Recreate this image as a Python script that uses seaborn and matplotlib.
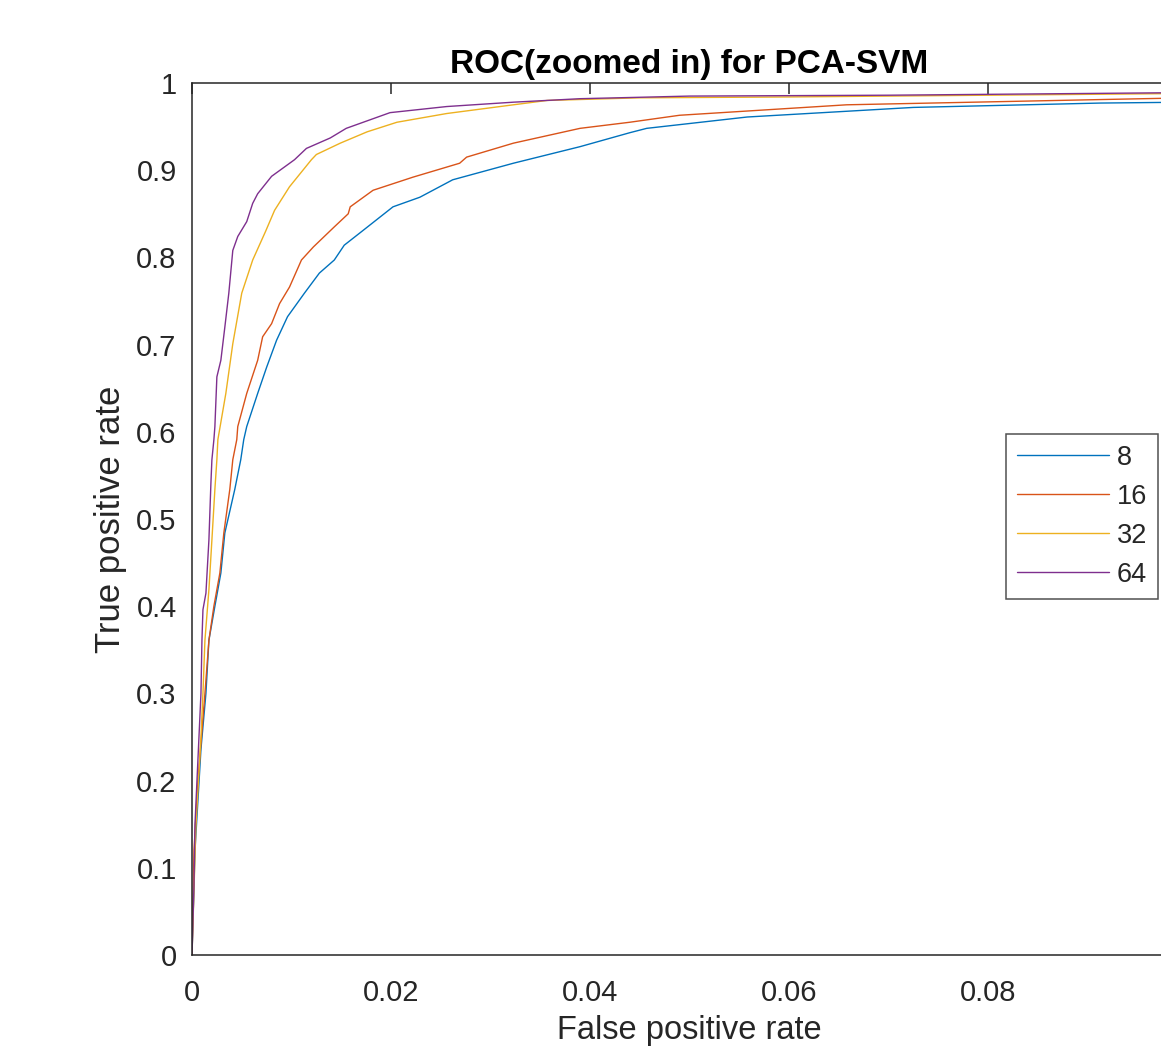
import numpy as np
import pandas as pd
import matplotlib
matplotlib.use("Agg")
import matplotlib.pyplot as plt
import seaborn as sns

# ---- data ----
labels = ["8", "16", "32", "64"]
colors = ["#0072BD", "#D95319", "#EDB120", "#7E2F8E"]

fpr_8 = [0, 0.0003, 0.0009, 0.0014, 0.0017, 0.0023, 0.0029, 0.0033, 0.0043, 0.0049, 0.0052,
         0.0055, 0.0066, 0.0075, 0.0085, 0.0096, 0.0113, 0.0128, 0.0143, 0.0153, 0.0172,
         0.0202, 0.0229, 0.0262, 0.0323, 0.039, 0.044, 0.0457, 0.0558, 0.0725, 0.0913, 0.1]
tpr_8 = [0, 0.12, 0.236, 0.30, 0.361, 0.40, 0.438, 0.484, 0.534, 0.568, 0.591,
         0.606, 0.644, 0.674, 0.705, 0.732, 0.759, 0.782, 0.797, 0.814, 0.831,
         0.858, 0.869, 0.889, 0.908, 0.927, 0.943, 0.948, 0.961, 0.972, 0.977, 0.978]

fpr_16 = [0, 0.0002, 0.0006, 0.0013, 0.0017, 0.0022, 0.0028, 0.0032, 0.0038, 0.0041, 0.0045,
          0.0046, 0.0055, 0.0066, 0.0071, 0.0080, 0.0088, 0.0098, 0.0110, 0.0122, 0.0143,
          0.0157, 0.0159, 0.0182, 0.0222, 0.0269, 0.0276, 0.0323, 0.039, 0.044, 0.049,
          0.0658, 0.0913, 0.1]
tpr_16 = [0, 0.12, 0.20, 0.30, 0.361, 0.40, 0.438, 0.484, 0.534, 0.568, 0.591,
          0.606, 0.644, 0.682, 0.709, 0.724, 0.747, 0.766, 0.797, 0.812, 0.835,
          0.850, 0.858, 0.877, 0.892, 0.908, 0.915, 0.931, 0.948, 0.955, 0.963,
          0.975, 0.981, 0.983]

fpr_32 = [0, 0.0004, 0.0009, 0.0011, 0.0013, 0.0017, 0.0020, 0.0023, 0.0025, 0.0026,
          0.0034, 0.0041, 0.0050, 0.0061, 0.0074, 0.0083, 0.0098, 0.0120, 0.0125, 0.0149,
          0.0176, 0.0206, 0.0256, 0.0323, 0.0357, 0.045, 0.06, 0.08, 0.1]
tpr_32 = [0, 0.15, 0.25, 0.30, 0.361, 0.419, 0.476, 0.534, 0.568, 0.591,
          0.644, 0.701, 0.759, 0.797, 0.830, 0.854, 0.881, 0.912, 0.918, 0.931,
          0.944, 0.955, 0.965, 0.975, 0.980, 0.983, 0.984, 0.986, 0.988]

fpr_64 = [0, 0.0002, 0.0003, 0.0007, 0.0009, 0.0010, 0.0011, 0.0014, 0.0017, 0.0019, 0.0020,
          0.0022, 0.0023, 0.0025, 0.0029, 0.0033, 0.0037, 0.0041, 0.0046, 0.0055, 0.0061,
          0.0066, 0.0080, 0.0103, 0.0115, 0.0139, 0.0155, 0.0199, 0.0256, 0.0323, 0.039,
          0.05, 0.07, 0.09, 0.1]
tpr_64 = [0, 0.08, 0.15, 0.25, 0.30, 0.361, 0.396, 0.415, 0.476, 0.541, 0.568,
          0.591, 0.606, 0.663, 0.682, 0.720, 0.759, 0.808, 0.824, 0.841, 0.862,
          0.873, 0.893, 0.912, 0.925, 0.937, 0.948, 0.966, 0.973, 0.978, 0.982,
          0.985, 0.986, 0.988, 0.989]

x_ticks = [0, 0.02, 0.04, 0.06, 0.08, 0.1]
x_ticklabels = ["0", "0.02", "0.04", "0.06", "0.08", "0.1"]
y_ticks = [0, 0.1, 0.2, 0.3, 0.4, 0.5, 0.6, 0.7, 0.8, 0.9, 1.0]
y_ticklabels = ["0", "0.1", "0.2", "0.3", "0.4", "0.5", "0.6", "0.7", "0.8", "0.9", "1"]

title = "ROC(zoomed in) for PCA-SVM"
xlabel = "False positive rate"
ylabel = "True positive rate"

# ---- build long-form table ----
series = {"8": (fpr_8, tpr_8), "16": (fpr_16, tpr_16),
          "32": (fpr_32, tpr_32), "64": (fpr_64, tpr_64)}
frames = []
for lab in labels:
    fx, ty = series[lab]
    frames.append(pd.DataFrame({"fpr": fx, "tpr": ty, "dims": lab}))
df = pd.concat(frames, ignore_index=True)

sns.set_style("white")
plt.rcParams["font.family"] = ["Liberation Sans", "DejaVu Sans"]

W, H = 1161, 1053
fig = plt.figure(figsize=(W / 100, H / 100), dpi=100)
ax = fig.add_axes([192 / W, (H - 955) / H, 995 / W, 872 / H])

sns.lineplot(data=df, x="fpr", y="tpr", hue="dims", hue_order=labels,
             palette=colors, sort=False, estimator=None, units="dims",
             linewidth=1.0, ax=ax, legend=True)

ax.set_xlim(0, 0.1)
ax.set_ylim(0, 1)
ax.set_xticks(x_ticks)
ax.set_xticklabels(x_ticklabels)
ax.set_yticks(y_ticks)
ax.set_yticklabels(y_ticklabels)

spine_c = "#262626"
for s in ax.spines.values():
    s.set_visible(True)
    s.set_color(spine_c)
    s.set_linewidth(1.1)

ax.tick_params(axis="both", direction="in", length=8, width=1.1, color=spine_c,
               labelcolor=spine_c, top=True, right=True, labelsize=21)
ax.tick_params(axis="x", pad=17)
ax.tick_params(axis="y", pad=11)

ax.set_title(title, fontsize=24, fontweight="bold", pad=7, color="black")
ax.set_xlabel(xlabel, fontsize=23.5, color=spine_c, labelpad=6)
ax.set_ylabel(ylabel, fontsize=25, color=spine_c, labelpad=7)

leg = ax.legend(loc="upper left", bbox_to_anchor=(0.818, 0.5975), borderaxespad=0,
                fontsize=19.5, frameon=True, fancybox=False, handlelength=3.4,
                handletextpad=0.3, labelspacing=0.48, borderpad=0.4, title=None)
leg.get_frame().set_edgecolor(spine_c)
leg.get_frame().set_linewidth(1.1)
for line in leg.get_lines():
    line.set_linewidth(1.0)

fig.savefig("out.png", dpi=100)
